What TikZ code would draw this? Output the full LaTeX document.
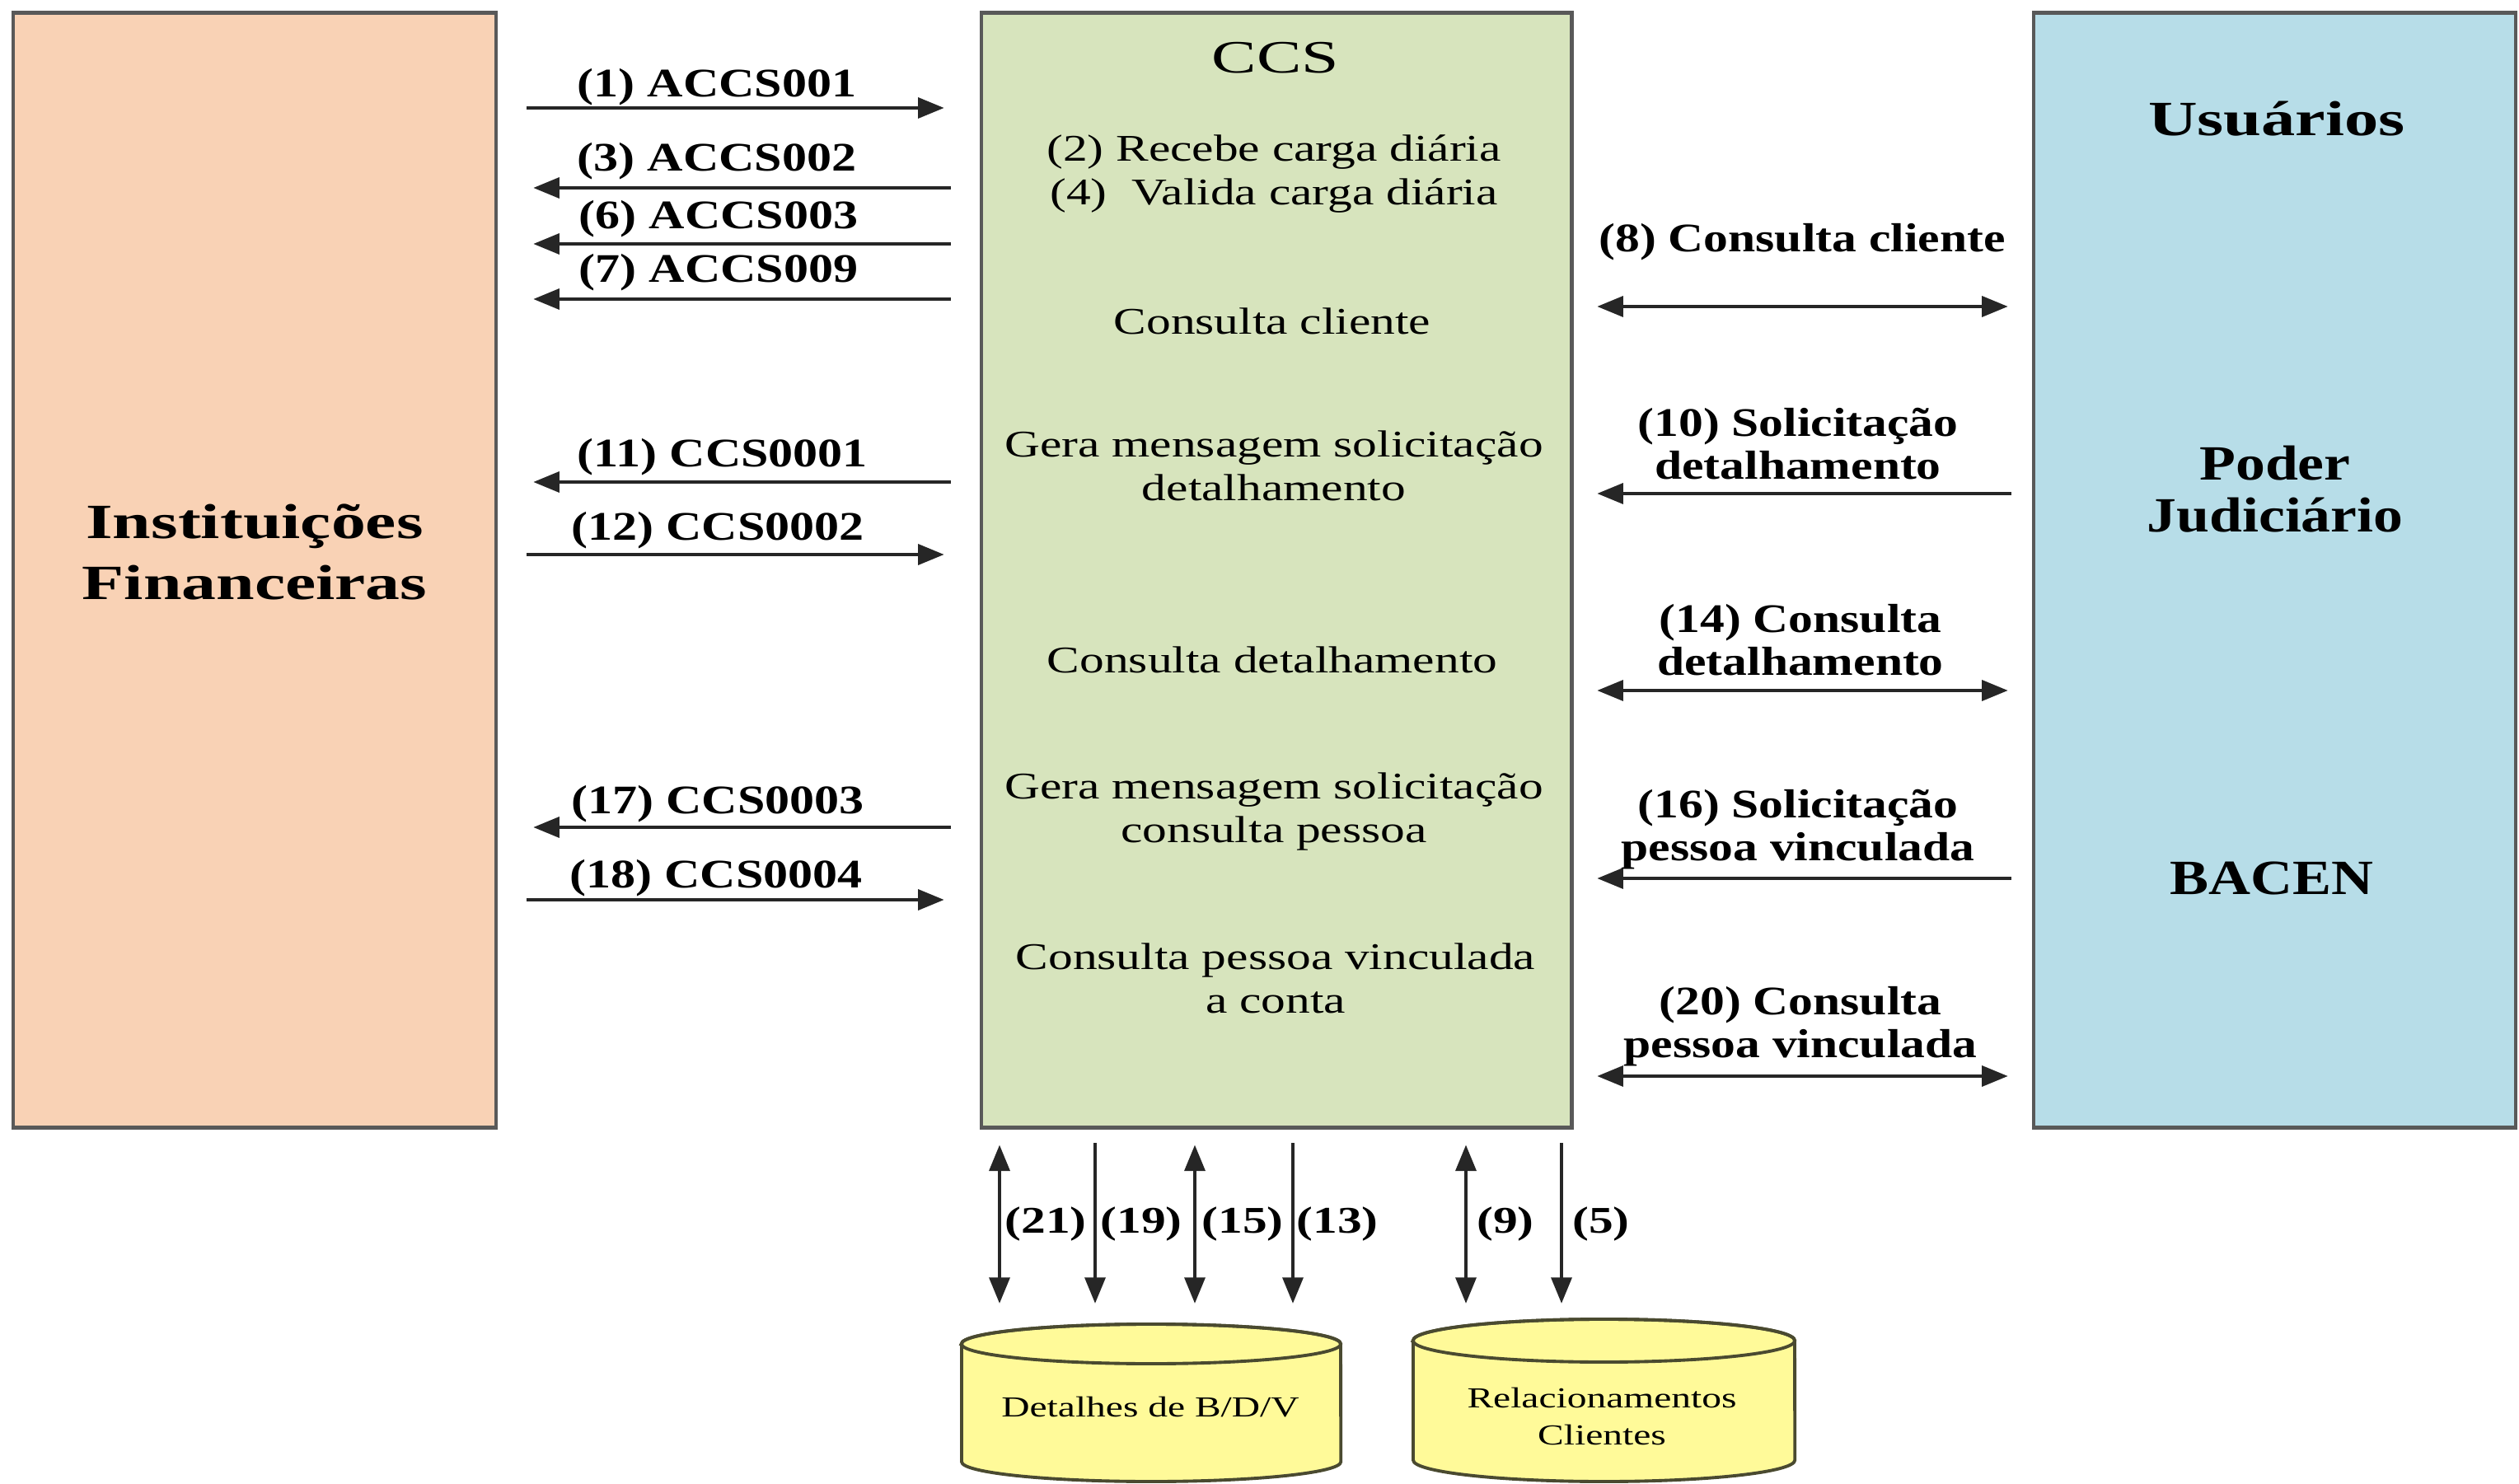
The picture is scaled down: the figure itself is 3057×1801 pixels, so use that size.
\documentclass[tikz,border=0pt]{standalone}
\usepackage{fontspec}
\setmainfont{Liberation Serif}
\usepackage{graphicx}
\usetikzlibrary{arrows.meta}
\newcommand\hsc[2]{\scalebox{#1}[1]{#2}}
\newcommand\twol[3]{\scalebox{#1}[1]{\begin{tabular}{@{}c@{}}#2\\#3\end{tabular}}}
\definecolor{ifc}{HTML}{F9D2B5}
\definecolor{ccsc}{HTML}{D7E4BD}
\definecolor{usc}{HTML}{B7DDE8}
\definecolor{dbc}{HTML}{FFFA99}
\definecolor{dbline}{HTML}{4A4A30}
\begin{document}
\begin{tikzpicture}[x=0.01cm,y=-0.01cm,
  box/.style={draw=black!65, line width=1.3pt, inner sep=0, outer sep=0},
  tipk/.tip={Triangle[length=9pt,width=7pt]},
  arr/.style={line width=1.3pt, draw=black!85, -tipk},
  dblarr/.style={line width=1.3pt, draw=black!85, tipk-tipk},
  lbl/.style={font=\fontsize{14}{15}\selectfont\bfseries, inner sep=0, yshift=-1.4pt},
  ccst/.style={font=\fontsize{13}{15}\selectfont, inner sep=0, yshift=-1.2pt},
  big/.style={font=\fontsize{17}{21}\selectfont\bfseries, inner sep=0},
  num/.style={font=\fontsize{13}{15}\selectfont\bfseries, inner sep=0, yshift=-0.8pt},
  dbt/.style={font=\fontsize{10}{12.8}\selectfont, inner sep=0},
  dbshape/.style={fill=dbc, draw=dbline, line width=1.1pt},
]
\fill[white] (0,0) rectangle (3057,1801);
\useasboundingbox (0,0) rectangle (3057,1801);

% main boxes
\node[box, fill=ifc, minimum width=5.86cm, minimum height=13.52cm] (IF) at (309,692) {};
\node[box, fill=ccsc, minimum width=7.16cm, minimum height=13.52cm] (CCS) at (1549,692) {};
\node[box, fill=usc, minimum width=5.85cm, minimum height=13.52cm] (US) at (2760.5,692) {};

% box texts
\node[big] (tIF) at (309,676) {\twol{1.4}{Instituições}{Financeiras}};
\node[big] (tUs) at (2763,144) {\hsc{1.38}{Usuários}};
\node[big, font=\fontsize{17}{18}\selectfont\bfseries] (tPJ) at (2761,601) {\twol{1.2}{Poder}{Judiciário}};
\node[big] (tBC) at (2757,1066) {\hsc{1.18}{BACEN}};

\node[inner sep=0, font=\fontsize{16}{18}\selectfont] (tCCS) at (1548,70) {\hsc{1.45}{CCS}};
\node[ccst] (c1) at (1546,207) {\twol{1.3}{(2) Recebe carga diária}{(4) \ Valida carga diária}};
\node[ccst] (c2) at (1544,386) {\hsc{1.3}{Consulta cliente}};
\node[ccst] (c3) at (1546,566) {\twol{1.3}{Gera mensagem solicitação}{detalhamento}};
\node[ccst] (c4) at (1544,797) {\hsc{1.3}{Consulta detalhamento}};
\node[ccst] (c5) at (1546,981) {\twol{1.3}{Gera mensagem solicitação}{consulta pessoa}};
\node[ccst] (c6) at (1548,1188) {\twol{1.3}{Consulta pessoa vinculada}{a conta}};

% left arrows: y coordinates
\coordinate (y1) at (0,131);
\coordinate (y3) at (0,228);
\coordinate (y6) at (0,296);
\coordinate (y7) at (0,363);
\coordinate (y11) at (0,585);
\coordinate (y12) at (0,673);
\coordinate (y17) at (0,1004);
\coordinate (y18) at (0,1092);

\draw[arr, shorten <=0.37cm, shorten >=0.45cm] (IF.east |- y1) -- (CCS.west |- y1);
\draw[arr, shorten <=0.37cm, shorten >=0.45cm] (CCS.west |- y3) -- (IF.east |- y3);
\draw[arr, shorten <=0.37cm, shorten >=0.45cm] (CCS.west |- y6) -- (IF.east |- y6);
\draw[arr, shorten <=0.37cm, shorten >=0.45cm] (CCS.west |- y7) -- (IF.east |- y7);
\draw[arr, shorten <=0.37cm, shorten >=0.45cm] (CCS.west |- y11) -- (IF.east |- y11);
\draw[arr, shorten <=0.37cm, shorten >=0.45cm] (IF.east |- y12) -- (CCS.west |- y12);
\draw[arr, shorten <=0.37cm, shorten >=0.45cm] (CCS.west |- y17) -- (IF.east |- y17);
\draw[arr, shorten <=0.37cm, shorten >=0.45cm] (IF.east |- y18) -- (CCS.west |- y18);

\node[lbl] (l1) at (870,101) {\hsc{1.22}{(1) ACCS001}};
\node[lbl] (l3) at (870,191) {\hsc{1.22}{(3) ACCS002}};
\node[lbl] (l6) at (872,261) {\hsc{1.22}{(6) ACCS003}};
\node[lbl] (l7) at (872,326) {\hsc{1.22}{(7) ACCS009}};
\node[lbl] (l11) at (877,550) {\hsc{1.22}{(11) CCS0001}};
\node[lbl] (l12) at (871,639) {\hsc{1.22}{(12) CCS0002}};
\node[lbl] (l17) at (871,971) {\hsc{1.22}{(17) CCS0003}};
\node[lbl] (l18) at (869,1061) {\hsc{1.22}{(18) CCS0004}};

% right arrows
\coordinate (y8) at (0,372);
\coordinate (y10) at (0,599);
\coordinate (y14) at (0,838);
\coordinate (y16) at (0,1066);
\coordinate (y20) at (0,1306);

\draw[dblarr, shorten <=0.31cm, shorten >=0.31cm] (CCS.east |- y8) -- (US.west |- y8);
\draw[arr, shorten <=0.27cm, shorten >=0.31cm] (US.west |- y10) -- (CCS.east |- y10);
\draw[dblarr, shorten <=0.31cm, shorten >=0.31cm] (CCS.east |- y14) -- (US.west |- y14);
\draw[arr, shorten <=0.27cm, shorten >=0.31cm] (US.west |- y16) -- (CCS.east |- y16);
\draw[dblarr, shorten <=0.31cm, shorten >=0.31cm] (CCS.east |- y20) -- (US.west |- y20);

\node[lbl] (r8) at (2187,289) {\hsc{1.21}{(8) Consulta cliente}};
\node[lbl] (r10) at (2182,540) {\twol{1.21}{(10) Solicitação}{detalhamento}};
\node[lbl] (r14) at (2185,778) {\twol{1.21}{(14) Consulta}{detalhamento}};
\node[lbl] (r16) at (2182,1003) {\twol{1.21}{(16) Solicitação}{pessoa vinculada}};
\node[lbl] (r20) at (2185,1242) {\twol{1.21}{(20) Consulta}{pessoa vinculada}};

% databases
\path[dbshape] (1167,1631) -- (1167,1774) arc[start angle=180, end angle=360, x radius=2.3cm, y radius=0.24cm] -- (1627,1631) arc[start angle=0, end angle=180, x radius=2.3cm, y radius=0.24cm] -- cycle;
\draw[dbline, line width=1.1pt] (1397,1631) ellipse [x radius=2.3cm, y radius=0.24cm];
\path[dbshape] (1715,1627) -- (1715,1772) arc[start angle=180, end angle=360, x radius=2.315cm, y radius=0.26cm] -- (2178,1627) arc[start angle=0, end angle=180, x radius=2.315cm, y radius=0.26cm] -- cycle;
\draw[dbline, line width=1.1pt] (1946.5,1627) ellipse [x radius=2.315cm, y radius=0.26cm];
\coordinate (dbA) at (1397,1607);
\coordinate (dbB) at (1946,1601);
\node[dbt] (tdbA) at (1396,1708) {\hsc{1.35}{Detalhes de B/D/V}};
\node[dbt] (tdbB) at (1944,1722) {\twol{1.35}{Relacionamentos}{Clientes}};

% vertical arrows
\coordinate (x21) at (1213,0);
\coordinate (x19) at (1329,0);
\coordinate (x15) at (1450,0);
\coordinate (x13) at (1569,0);
\coordinate (x9) at (1779,0);
\coordinate (x5) at (1895,0);
\draw[dblarr, shorten <=0.21cm, shorten >=0.25cm] (CCS.south -| x21) -- (dbA -| x21);
\draw[arr, shorten <=0.19cm, shorten >=0.25cm] (CCS.south -| x19) -- (dbA -| x19);
\draw[dblarr, shorten <=0.21cm, shorten >=0.25cm] (CCS.south -| x15) -- (dbA -| x15);
\draw[arr, shorten <=0.19cm, shorten >=0.25cm] (CCS.south -| x13) -- (dbA -| x13);
\draw[dblarr, shorten <=0.21cm, shorten >=0.19cm] (CCS.south -| x9) -- (dbB -| x9);
\draw[arr, shorten <=0.19cm, shorten >=0.19cm] (CCS.south -| x5) -- (dbB -| x5);

\node[num] (n21) at (1269,1483) {\hsc{1.3}{(21)}};
\node[num] (n19) at (1385,1483) {\hsc{1.3}{(19)}};
\node[num] (n15) at (1508,1483) {\hsc{1.3}{(15)}};
\node[num] (n13) at (1623,1483) {\hsc{1.3}{(13)}};
\node[num] (n9) at (1827,1483) {\hsc{1.3}{(9)}};
\node[num] (n5) at (1943,1483) {\hsc{1.3}{(5)}};
\end{tikzpicture}
\end{document}
